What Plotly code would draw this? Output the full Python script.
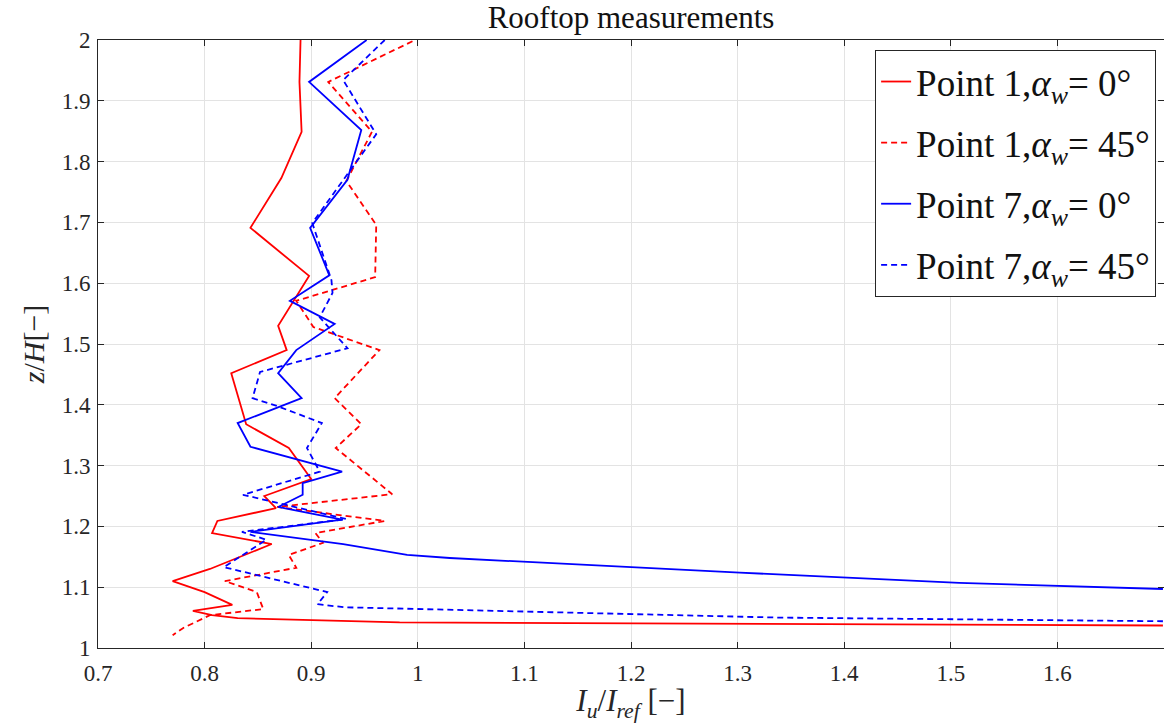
import plotly.graph_objects as go

# Point 1, alpha_w = 0 deg
p1_0_x = [0.890, 0.889, 0.891, 0.872, 0.843, 0.898, 0.869, 0.877, 0.825, 0.839, 0.879, 0.900, 0.856,
          0.867, 0.812, 0.807, 0.863, 0.805, 0.770, 0.800, 0.826, 0.789, 0.807, 0.831, 0.983, 1.699]
p1_0_z = [2.000, 1.931, 1.849, 1.773, 1.691, 1.612, 1.530, 1.490, 1.452, 1.368, 1.329, 1.278, 1.250,
          1.230, 1.209, 1.189, 1.171, 1.130, 1.110, 1.092, 1.071, 1.061, 1.054, 1.049, 1.042, 1.037]

# Point 1, alpha_w = 45 deg
p1_45_x = [0.995, 0.916, 0.957, 0.933, 0.961, 0.960, 0.886, 0.902, 0.964, 0.922, 0.947, 0.923, 0.976,
           0.868, 0.969, 0.904, 0.911, 0.879, 0.886, 0.819, 0.849, 0.855, 0.805, 0.780, 0.770]
p1_45_z = [1.998, 1.931, 1.849, 1.768, 1.696, 1.610, 1.571, 1.528, 1.490, 1.411, 1.368, 1.329, 1.253,
           1.232, 1.209, 1.189, 1.173, 1.153, 1.132, 1.110, 1.092, 1.064, 1.054, 1.033, 1.021]

# Point 7, alpha_w = 0 deg
p7_0_x = [0.952, 0.898, 0.947, 0.934, 0.899, 0.917, 0.880, 0.922, 0.886, 0.869, 0.891, 0.831, 0.843,
          0.929, 0.892, 0.892, 0.869, 0.929, 0.843, 0.930, 0.990, 1.030, 1.302, 1.405, 1.508, 1.699]
p7_0_z = [2.000, 1.931, 1.852, 1.770, 1.691, 1.613, 1.571, 1.533, 1.490, 1.452, 1.411, 1.370, 1.331,
          1.290, 1.271, 1.252, 1.232, 1.211, 1.191, 1.171, 1.153, 1.148, 1.124, 1.116, 1.107, 1.097]

# Point 7, alpha_w = 45 deg
p7_45_x = [0.969, 0.930, 0.961, 0.901, 0.919, 0.920, 0.908, 0.934, 0.852, 0.845, 0.868, 0.910, 0.896,
           0.908, 0.836, 0.933, 0.835, 0.858, 0.818, 0.915, 0.906, 0.931, 1.339, 1.699]
p7_45_z = [2.000, 1.934, 1.845, 1.699, 1.605, 1.584, 1.544, 1.493, 1.454, 1.411, 1.398, 1.370, 1.329,
           1.290, 1.252, 1.212, 1.191, 1.178, 1.133, 1.092, 1.072, 1.067, 1.050, 1.044]

names = ["Point 1,<i>α</i><sub><i>w</i></sub>= 0°",
         "Point 1,<i>α</i><sub><i>w</i></sub>= 45°",
         "Point 7,<i>α</i><sub><i>w</i></sub>= 0°",
         "Point 7,<i>α</i><sub><i>w</i></sub>= 45°"]

FONT = "Liberation Serif"
DASH = "6px,4px"

fig = go.Figure()
series = [(p1_0_x, p1_0_z, "#ff0000", "solid"),
          (p1_45_x, p1_45_z, "#ff0000", DASH),
          (p7_0_x, p7_0_z, "#0000ff", "solid"),
          (p7_45_x, p7_45_z, "#0000ff", DASH)]
for i, ((x, z, c, d), n) in enumerate(zip(series, names)):
    fig.add_trace(go.Scatter(x=x, y=z, mode="lines", name=n, legendgroup=f"g{i}",
                             line=dict(color=c, width=1.8, dash=d)))

axis_common = dict(showgrid=True, gridcolor="#e3e3e3", gridwidth=1,
                   showline=True, linecolor="#262626", linewidth=1, mirror="ticks",
                   ticks="inside", ticklen=6, tickcolor="#262626", zeroline=False,
                   tickfont=dict(family=FONT, size=23, color="#262626"))

fig.update_xaxes(range=[0.7, 1.7], dtick=0.1, tick0=0.7, ticklabelstandoff=4, **axis_common,
                 title=dict(text="<i>I</i><sub><i>u</i></sub>/<i>I</i><sub><i>ref</i></sub> [−]",
                            font=dict(family=FONT, size=31, color="#262626"), standoff=2))
fig.update_yaxes(range=[1, 2], dtick=0.1, tick0=1, ticklabelstandoff=2, **axis_common,
                 title=dict(text="<i>z</i>/<i>H</i>[−]",
                            font=dict(family=FONT, size=30, color="#262626"), standoff=8))

fig.update_layout(
    width=1164, height=723,
    margin=dict(l=98, r=0, t=40, b=75),
    plot_bgcolor="white", paper_bgcolor="white",
    title=dict(text="Rooftop measurements", x=0.5, xref="paper", xanchor="center",
               y=1 - 17 / 723, yanchor="middle",
               font=dict(family=FONT, size=31, color="#111111")),
    legend=dict(x=0.729, y=0.9836, xanchor="left", yanchor="top",
                bgcolor="white", bordercolor="#262626", borderwidth=1,
                font=dict(family=FONT, size=37, color="#111111"),
                itemwidth=30, tracegroupgap=10),
    showlegend=True,
)

fig.write_html("out.html")
